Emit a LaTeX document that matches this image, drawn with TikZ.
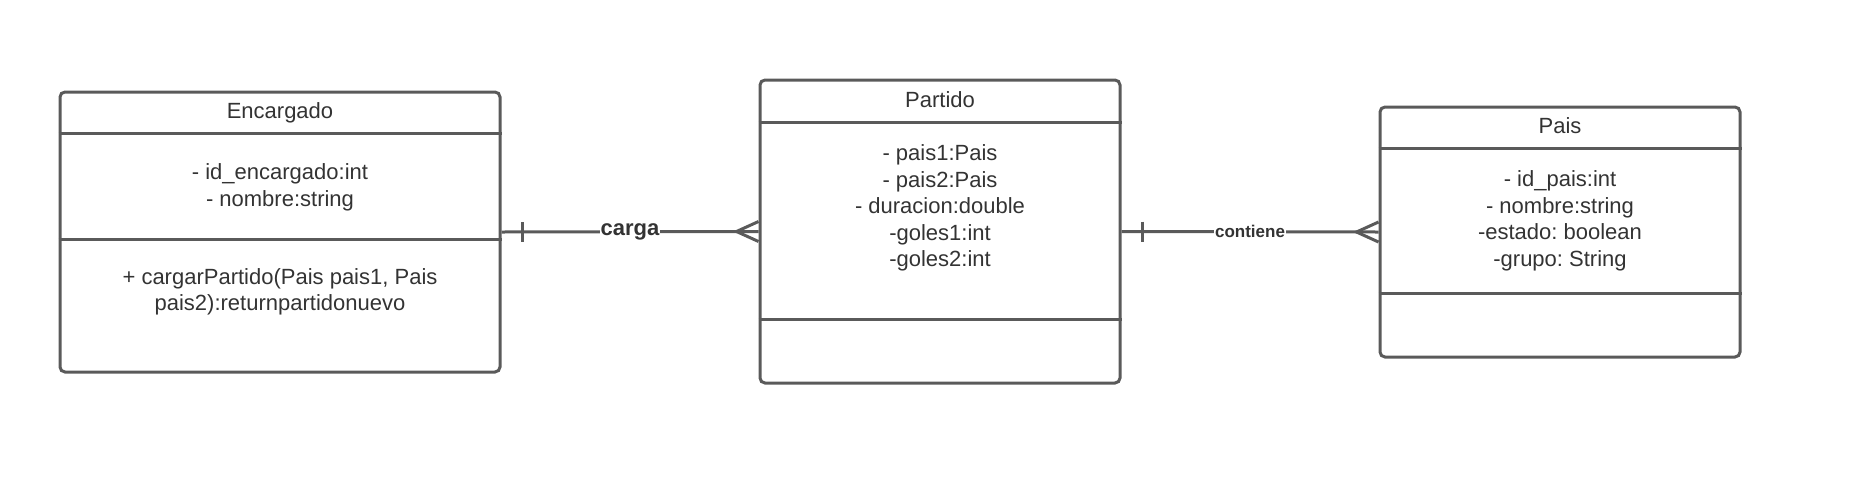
\documentclass[tikz,border=0pt]{standalone}
\usepackage{fontspec}
\setmainfont{Liberation Sans}
\usetikzlibrary{calc,positioning}
\definecolor{LineGray}{RGB}{90,90,90}
\definecolor{TextGray}{RGB}{51,51,51}
\newcommand{\bodyfont}{\fontsize{22}{26.5}\selectfont}
\frenchspacing

\begin{document}
\begin{tikzpicture}[x=1pt,y=-1pt,
  cls/.style={draw=LineGray,line width=3pt,rounded corners=5pt,inner sep=0pt},
  sep/.style={draw=LineGray,line width=3pt},
  txt/.style={text=TextGray,font=\bodyfont,align=center,inner sep=0pt},
  rel/.style={draw=LineGray,line width=3pt},
  lbl/.style={fill=white,text=TextGray,inner sep=1pt}]
\useasboundingbox (0,0) rectangle (1870,488);
% classes
\node[cls,minimum width=440pt,minimum height=280pt] (enc) at (280,232) {};
\node[cls,minimum width=360pt,minimum height=303pt] (par) at (940,231.5) {};
\node[cls,minimum width=360pt,minimum height=250pt] (pais) at (1560,232) {};
\draw[sep] ($(enc.north west)+(0,42.5)$) -- ($(enc.north east)+(0,42.5)$);
\draw[sep] ($(enc.north west)+(0,148.5)$) -- ($(enc.north east)+(0,148.5)$);
\draw[sep] ($(par.north west)+(0,43.5)$) -- ($(par.north east)+(0,43.5)$);
\draw[sep] ($(par.north west)+(0,240.5)$) -- ($(par.north east)+(0,240.5)$);
\draw[sep] ($(pais.north west)+(0,42.5)$) -- ($(pais.north east)+(0,42.5)$);
\draw[sep] ($(pais.north west)+(0,187.5)$) -- ($(pais.north east)+(0,187.5)$);
% texts
\node[txt] (enc-name) at (280,112.5) {Encargado};
\node[txt] (enc-attr) at (280,187.5) {- id\_encargado:int\\- nombre:string};
\node[txt] (enc-op) at (280,292) {+ cargarPartido(Pais pais1, Pais\\pais2):returnpartidonuevo};
\node[txt] (par-name) at (940,100) {Partido};
\node[txt] (par-attr) at (940,208) {- pais1:Pais\\- pais2:Pais\\- duracion:double\\-goles1:int\\-goles2:int};
\node[txt] (pais-name) at (1560,126) {Pais};
\node[txt] (pais-attr) at (1560,221) {- id\_pais:int\\- nombre:string\\-estado: boolean\\-grupo: String};
% relations
\draw[rel] (enc.east) -- node[lbl,font=\bfseries\fontsize{22}{26}\selectfont] (carga) {carga} (par.west);
\draw[rel] ($(enc.east)+(21,-10)$) -- ($(enc.east)+(21,10)$);
\draw[rel] ($(par.west)+(0,-10)$) -- ($(par.west)+(-22,0)$) -- ($(par.west)+(0,10)$);
\draw[rel] (par.east) -- node[lbl,font=\bfseries\fontsize{17}{20}\selectfont] (contiene) {contiene} (pais.west);
\draw[rel] ($(par.east)+(21,-10)$) -- ($(par.east)+(21,10)$);
\draw[rel] ($(pais.west)+(0,-10)$) -- ($(pais.west)+(-22,0)$) -- ($(pais.west)+(0,10)$);
\end{tikzpicture}
\end{document}
